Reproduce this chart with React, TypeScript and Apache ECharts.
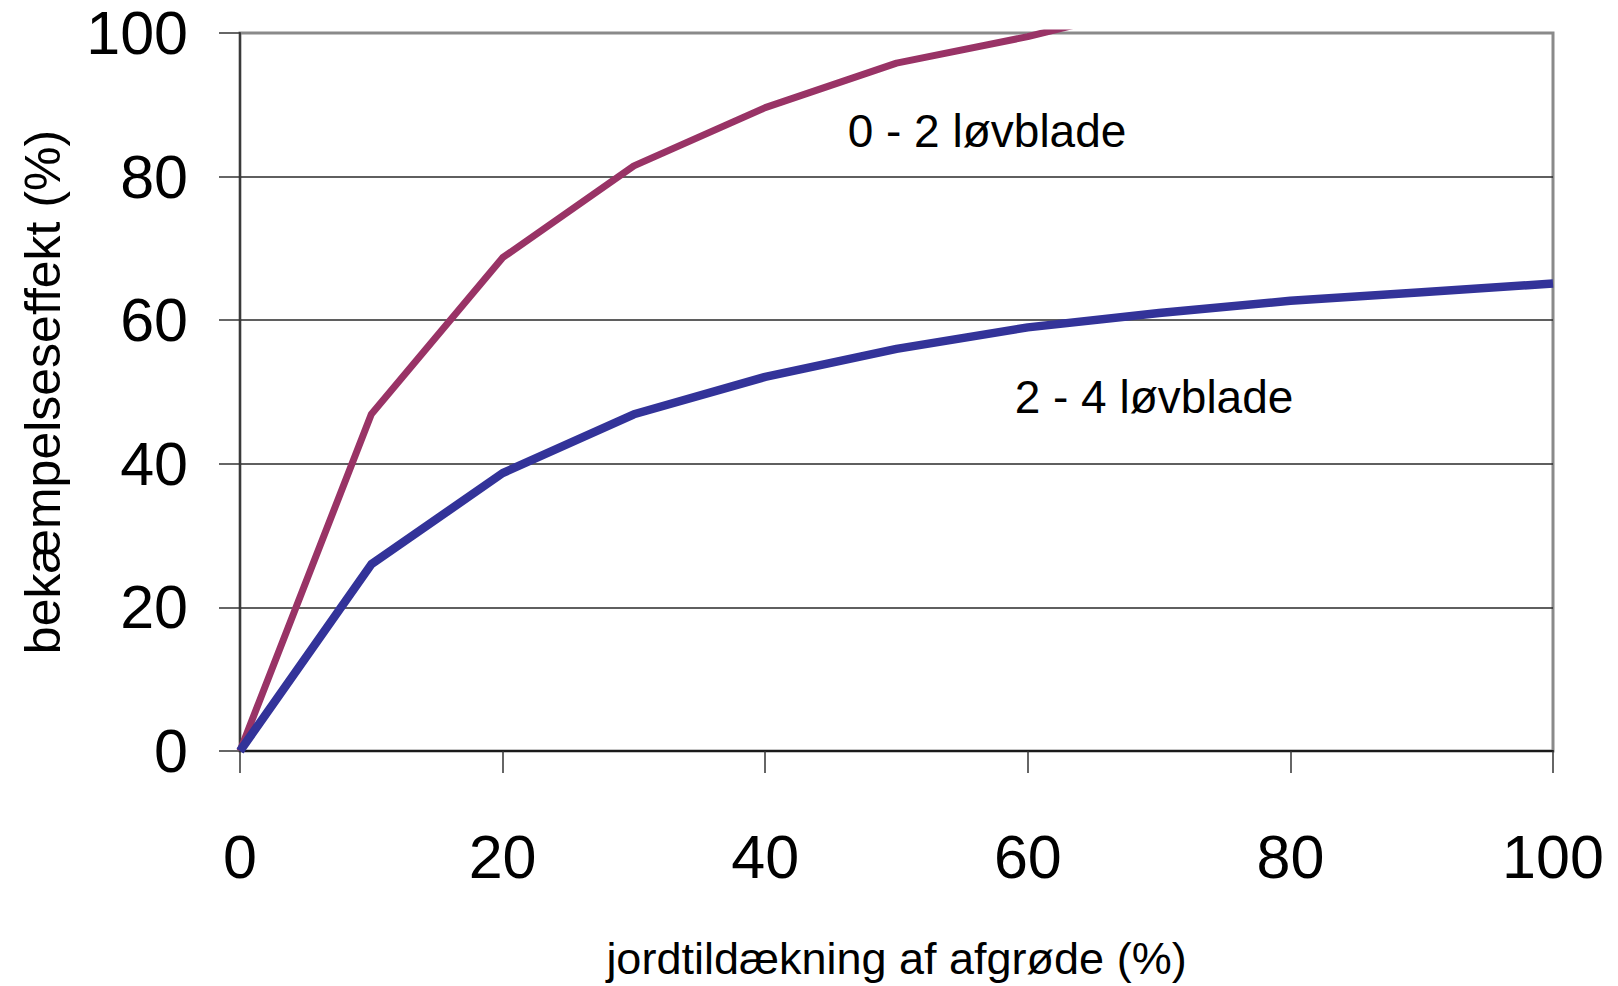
import React, { useEffect, useRef } from "react";
import * as echarts from "echarts";

// Jorddækning (x) og bekæmpelseseffekt (y) for to udviklingstrin
const coverage: number[] = [0, 10, 20, 30, 40, 50, 60, 70, 80, 90, 100];
const leaves02: number[] = [0, 46.9, 68.7, 81.5, 89.6, 95.8, 99.5, 104];
const leaves24: number[] = [0, 26.0, 38.7, 46.9, 52.1, 56.0, 59.0, 61.0, 62.7, 63.9, 65.1];
const axisTicks: number[] = [0, 20, 40, 60, 80, 100];

const seriesNames = ["0 - 2 løvblade", "2 - 4 løvblade"];
const xTitle = "jordtildækning af afgrøde (%)";
const yTitle = "bekæmpelseseffekt (%)";

const FONT = '"Liberation Sans", Arial, Helvetica, sans-serif';

const pairs = (ys: number[]) => ys.map((y, i) => [coverage[i], y]);

export default function App() {
  const ref = useRef<HTMLDivElement>(null);

  useEffect(() => {
    document.body.style.margin = "0";
    if (!ref.current) return;
    const chart = echarts.init(ref.current, undefined, { renderer: "svg" });

    const tickMin = axisTicks[0];
    const tickMax = axisTicks[axisTicks.length - 1];
    const tickStep = axisTicks[1] - axisTicks[0];

    chart.setOption({
      animation: false,
      backgroundColor: "#ffffff",
      grid: {
        left: 240,
        right: 65,
        top: 33,
        bottom: 230,
        show: true,
        borderColor: "#8a8a8a",
        borderWidth: 3,
        backgroundColor: "transparent",
      },
      xAxis: {
        type: "value",
        min: tickMin,
        max: tickMax,
        interval: tickStep,
        name: xTitle,
        nameLocation: "middle",
        nameGap: 185,
        nameTextStyle: { fontFamily: FONT, fontSize: 45, color: "#000" },
        axisLine: { show: true, lineStyle: { color: "#1a1a1a", width: 2 } },
        axisTick: { show: true, inside: false, length: 22, lineStyle: { color: "#333", width: 1.5 } },
        axisLabel: { fontFamily: FONT, fontSize: 61, color: "#000", margin: 75 },
        splitLine: { show: false },
      },
      yAxis: {
        type: "value",
        min: tickMin,
        max: tickMax,
        interval: tickStep,
        name: yTitle,
        nameLocation: "middle",
        nameGap: 172,
        nameRotate: 90,
        nameTextStyle: { fontFamily: FONT, fontSize: 50, color: "#000" },
        axisLine: { show: true, lineStyle: { color: "#3a3a3a", width: 2 } },
        axisTick: { show: true, inside: false, length: 21, lineStyle: { color: "#333", width: 1.5 } },
        axisLabel: {
          fontFamily: FONT,
          fontSize: 61,
          color: "#000",
          margin: 52,
          padding: [12, 0, 0, 0],
        },
        splitLine: {
          show: true,
          showMinLine: false,
          showMaxLine: false,
          lineStyle: { color: "#2a2a2a", width: 1.5 },
        },
      },
      series: [
        {
          name: seriesNames[0],
          type: "line",
          data: pairs(leaves02),
          symbol: "none",
          clip: true,
          lineStyle: { color: "#993366", width: 7, join: "round" },
          z: 3,
        },
        {
          name: seriesNames[1],
          type: "line",
          data: pairs(leaves24),
          symbol: "none",
          clip: true,
          lineStyle: { color: "#333399", width: 8.5, join: "round" },
          z: 4,
        },
      ],
      graphic: [
        {
          type: "text",
          x: 987,
          y: 131,
          style: {
            text: seriesNames[0],
            font: `46px ${FONT}`,
            fill: "#000",
            align: "center",
            verticalAlign: "middle",
          },
          z: 10,
        },
        {
          type: "text",
          x: 1154,
          y: 397,
          style: {
            text: seriesNames[1],
            font: `46px ${FONT}`,
            fill: "#000",
            align: "center",
            verticalAlign: "middle",
          },
          z: 10,
        },
      ],
    });

    return () => chart.dispose();
  }, []);

  return (
    <div
      ref={ref}
      style={{ position: "absolute", left: 0, top: 0, width: 1618, height: 986, background: "#fff" }}
    />
  );
}
